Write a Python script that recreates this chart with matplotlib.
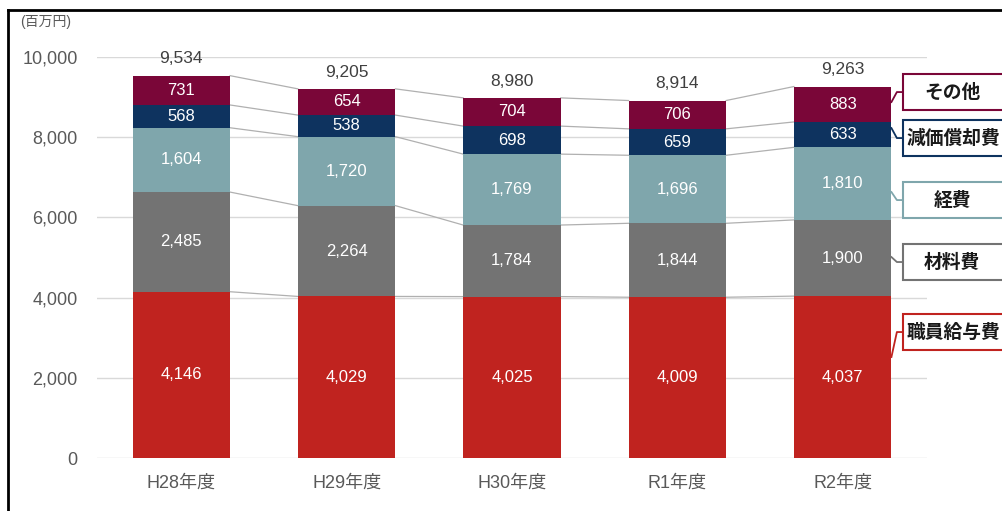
import matplotlib
matplotlib.use("Agg")
import matplotlib.pyplot as plt
from matplotlib.patches import Rectangle
from matplotlib.lines import Line2D
import numpy as np

plt.rcParams['font.family'] = ['Liberation Sans', 'Noto Sans CJK JP']

##  data
years = ["H28年度", "H29年度", "H30年度", "R1年度", "R2年度"]
salary = [4146, 4029, 4025, 4009, 4037]     # 職員給与費
material = [2485, 2264, 1784, 1844, 1900]   # 材料費
expense = [1604, 1720, 1769, 1696, 1810]    # 経費
deprec = [568, 538, 698, 659, 633]          # 減価償却費
other = [731, 654, 704, 706, 883]           # その他
series_names = ["職員給与費", "材料費", "経費", "減価償却費", "その他"]
yticks = [0, 2000, 4000, 6000, 8000, 10000]

colors = ["#C0231F", "#737373", "#7FA6AC", "#0E335F", "#7A0638"]

series = [salary, material, expense, deprec, other]
x = np.arange(len(years))
w = 0.59

fig = plt.figure(figsize=(10.03, 5.11), dpi=100)
ax = fig.add_axes([0.0967, 0.1037, 0.8275, 0.7848])

##  grid
for t in yticks:
    ax.axhline(t, color="#D9D9D9", lw=1, zorder=0)

bottom = np.zeros(len(years))
tops = []
for vals, c in zip(series, colors):
    vals = np.array(vals)
    ax.bar(x, vals, w, bottom=bottom, color=c, zorder=2)
    for xi, b, v in zip(x, bottom, vals):
        ax.text(xi, b + v / 2, f"{v:,}", ha="center", va="center",
                color="white", fontsize=12, zorder=3)
    bottom = bottom + vals
    tops.append(bottom.copy())

##  connecting lines between bars
for lvl in tops:
    for i in range(len(years) - 1):
        ax.plot([x[i] + w / 2, x[i + 1] - w / 2], [lvl[i], lvl[i + 1]],
                color="#B0B0B0", lw=0.9, zorder=1)

##  totals
for xi, tot in zip(x, tops[-1]):
    ax.text(xi, tot + 230, f"{int(tot):,}", ha="center", va="bottom",
            color="#404040", fontsize=12.5)

ax.set_xlim(-0.51, 4.51)
ax.set_ylim(0, 10000)
ax.set_yticks(yticks)
ax.set_yticklabels([f"{t:,}" for t in yticks])
ax.set_xticks(x)
ax.set_xticklabels(years)
ax.tick_params(axis="both", length=0, labelsize=13, labelcolor="#595959")
ax.tick_params(axis="y", pad=14)
ax.tick_params(axis="x", pad=12)
for s in ax.spines.values():
    s.set_visible(False)

fig.text(20 / 1003, 1 - 22 / 511, "(百万円)", fontsize=10, color="#595959",
         va="center", ha="left")

##  right side labels
box_mid = [3141, 4887, 6432, 7978, 9125]     # y of box centre
bar_pt = [2518, 5011, 6632, 8227, 8876]      # where connector leaves bar
box_h = 900
xb = 4.363
for name, c, ym, yb in zip(series_names, colors, box_mid, bar_pt):
    ax.add_patch(Rectangle((xb, ym - box_h / 2), 0.7, box_h, fill=True,
                           facecolor="white", edgecolor=c, lw=1.5,
                           clip_on=False, zorder=4))
    ax.plot([x[-1] + w / 2, xb - 0.035, xb], [yb, ym, ym], color=c, lw=1.3,
            clip_on=False, zorder=4)
    tx = xb + 0.3 if len(name) < 5 else xb + 0.025
    ax.text(tx, ym, name, ha="center" if len(name) < 5 else "left",
            va="center", fontsize=13.5, fontweight="bold", color="#1a1a1a",
            family=["Noto Sans CJK JP"], zorder=5, clip_on=False)

##  frame
fig.add_artist(Line2D([8 / 1003, 8 / 1003], [0, 1 - 10 / 511], color="black",
                      lw=2, transform=fig.transFigure))
fig.add_artist(Line2D([8 / 1003, 1], [1 - 10 / 511, 1 - 10 / 511],
                      color="black", lw=2, transform=fig.transFigure))

fig.savefig("out.png", dpi=100)
